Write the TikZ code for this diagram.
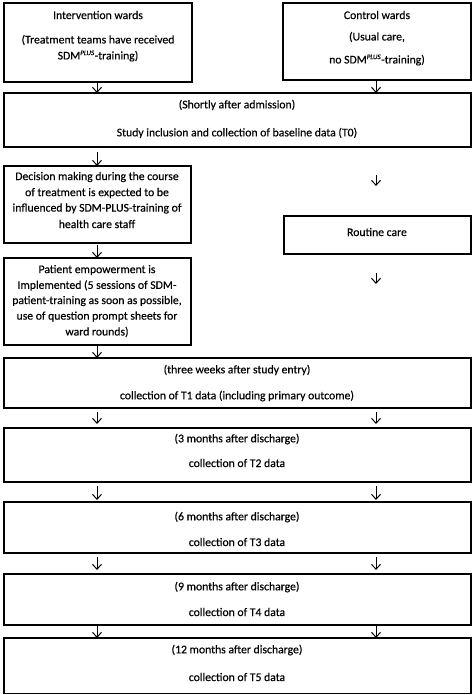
\documentclass[tikz,border=0pt]{standalone}
\usepackage{fontspec}
\setmainfont{Carlito}[FakeBold=0.35]
\usetikzlibrary{arrows.meta}
\tikzset{
  flowbox/.style={draw, line width=1.4pt, inner sep=0pt, outer sep=0pt},
  txt/.style={inner sep=0pt, font=\fontsize{11.7}{14}\selectfont, align=center},
  arr/.style={line width=1pt, -{Straight Barb[length=5pt,width=9pt,line width=1pt]}}
}
\newcommand{\mybox}[5]{%
  \node[flowbox, minimum width={(#4)-(#2)}, minimum height={(#5)-(#3)}] (#1) at ({((#2)+(#4))/2},{((#3)+(#5))/2}) {};}
\newcommand{\sdmplus}{SDM\textsuperscript{\scriptsize\textit{PLUS}}}
\begin{document}
\begin{tikzpicture}[x=1pt,y=-1pt]
\useasboundingbox (0,0) rectangle (473,695);
% boxes
\mybox{int}{4}{3}{192}{82}
\mybox{ctrl}{283}{3}{471}{80}
\mybox{tzero}{4}{93}{471}{147}
\mybox{dec}{4}{166}{191}{243}
\mybox{rout}{284}{216}{471}{254}
\mybox{pat}{4}{258}{191}{345}
\mybox{tone}{4}{358}{471}{408}
\mybox{ttwo}{4}{428}{471}{482}
\mybox{tthree}{4}{502}{471}{553}
\mybox{tfour}{4}{574}{471}{625}
\mybox{tfive}{4}{638}{471}{693.5}
% texts
\node[txt] (int1) at (98,15) {Intervention wards};
\node[txt] (int2) at (98,40) {(Treatment teams have received};
\node[txt] (int3) at (98,56) {\sdmplus-training)};
\node[txt] (ctrl1) at (377,15) {Control wards};
\node[txt] (ctrl2) at (377,37) {(Usual care,};
\node[txt] (ctrl3) at (377,60) {no \sdmplus-training)};
\node[txt] (tz1) at (237,105) {(Shortly after admission)};
\node[txt] (tz2) at (237,133) {Study inclusion and collection of baseline data (T0)};
\node[txt] (dec1) at (97,177) {Decision making during the course};
\node[txt] (dec2) at (97,193) {of treatment is expected to be};
\node[txt] (dec3) at (97,208.5) {influenced by SDM-PLUS-training of};
\node[txt] (dec4) at (97,224) {health care staff};
\node[txt] (rout1) at (377,232) {Routine care};
\node[txt] (pat1) at (97,270) {Patient empowerment is};
\node[txt] (pat2) at (97,285.5) {Implemented (5 sessions of SDM-};
\node[txt] (pat3) at (97,301) {patient-training as soon as possible,};
\node[txt] (pat4) at (97,316.5) {use of question prompt sheets for};
\node[txt] (pat5) at (97,332) {ward rounds)};
\node[txt] (to1) at (237,370) {(three weeks after study entry)};
\node[txt] (to2) at (237,396) {collection of T1 data (including primary outcome)};
\node[txt] (tt1) at (237,439) {(3 months after discharge)};
\node[txt] (tt2) at (237,463) {collection of T2 data};
\node[txt] (th1) at (237,517) {(6 months after discharge)};
\node[txt] (th2) at (237,542) {collection of T3 data};
\node[txt] (tf1) at (237,587) {(9 months after discharge)};
\node[txt] (tf2) at (237,612) {collection of T4 data};
\node[txt] (tv1) at (237,650) {(12 months after discharge)};
\node[txt] (tv2) at (237,677) {collection of T5 data};
% free arrow coordinates
\coordinate (ra) at (376,175);
\coordinate (rb) at (376,186);
\coordinate (rc) at (376,273);
\coordinate (rd) at (376,284);
% arrows
\draw[arr] (int.south -| 97,0) -- (tzero.north -| 97,0);
\draw[arr] (ctrl.south -| 376,0) -- (tzero.north -| 376,0);
\draw[arr] ([yshift=-5pt]tzero.south -| 97,0) -- (dec.north -| 97,0);
\draw[arr] (ra) -- (rb);
\draw[arr] ([yshift=-2pt]dec.south -| 97,0) -- (pat.north -| 97,0);
\draw[arr] (rc) -- (rd);
\draw[arr] (pat.south -| 97,0) -- (tone.north -| 97,0);
\foreach \a/\b/\s/\e in {tone/ttwo/4/4, ttwo/tthree/4/2, tthree/tfour/4/4, tfour/tfive/1/0}{
  \draw[arr] ([yshift=-\s pt]\a.south -| 97,0) -- ([yshift=\e pt]\b.north -| 97,0);
  \draw[arr] ([yshift=-\s pt]\a.south -| 376,0) -- ([yshift=\e pt]\b.north -| 376,0);
}
\end{tikzpicture}
\end{document}
